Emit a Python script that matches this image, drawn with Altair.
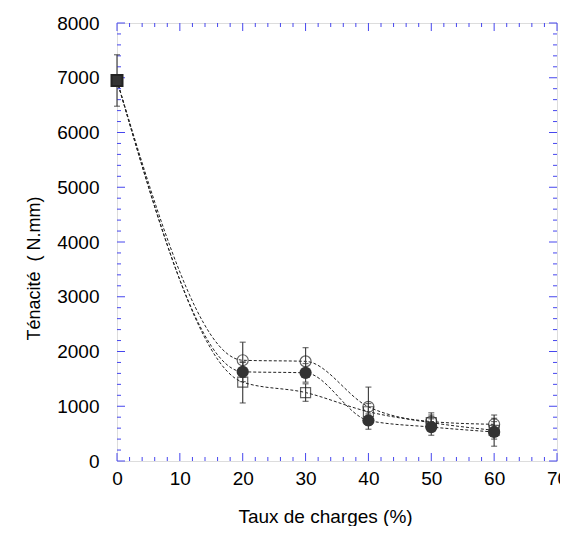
import altair as alt
import pandas as pd

# ---- data ----
x_vals = [0, 20, 30, 40, 50, 60]

open_circle_y = [6950, 1840, 1820, 990, 720, 670]
open_circle_lo = [6950, 1530, 1560, 650, 600, 480]
open_circle_hi = [6950, 2170, 2070, 1350, 880, 840]

filled_circle_y = [6950, 1630, 1610, 740, 620, 530]
filled_circle_lo = [6480, 1450, 1440, 580, 470, 270]
filled_circle_hi = [7420, 1810, 1780, 860, 770, 780]

open_square_y = [6950, 1440, 1250, 900, 700, 560]
open_square_lo = [6950, 1060, 1090, 750, 560, 400]
open_square_hi = [6950, 1800, 1410, 1050, 840, 720]

x_major = [0, 10, 20, 30, 40, 50, 60, 70]
x_minor = [2, 4, 6, 8, 12, 14, 16, 18, 22, 24, 26, 28, 32, 34, 36, 38,
           42, 44, 46, 48, 52, 54, 56, 58, 62, 64, 66, 68]
y_major = [0, 1000, 2000, 3000, 4000, 5000, 6000, 7000, 8000]
y_minor = [v + d for v in [0, 1000, 2000, 3000, 4000, 5000, 6000, 7000]
           for d in (200, 400, 600, 800)]

rows = []
for name, ys_, los, his in [
    ("oc", open_circle_y, open_circle_lo, open_circle_hi),
    ("fc", filled_circle_y, filled_circle_lo, filled_circle_hi),
    ("os", open_square_y, open_square_lo, open_square_hi),
]:
    for x, y, lo, hi in zip(x_vals, ys_, los, his):
        rows.append({"series": name, "x": x, "y": y, "lo": lo, "hi": hi})
df = pd.DataFrame(rows)

W, H = 440, 438
BLUE = "#4646ee"
FONT = "Liberation Sans"

xs = alt.Scale(domain=[0, 70], nice=False, zero=False)
ys = alt.Scale(domain=[0, 8000], nice=False)

x_axis = alt.Axis(
    values=x_major, format="d", ticks=False, domain=False, grid=False,
    labelFlush=False, labelOverlap=False,
    labelFont=FONT, labelFontSize=19, labelColor="black", labelPadding=8,
    title="Taux de charges (%)", titleFont=FONT, titleFontSize=19,
    titleFontWeight="normal", titleColor="black",
    titleX=208, titleY=61, titleBaseline="alphabetic")
y_axis = alt.Axis(
    values=y_major, format="d", ticks=False, domain=False, grid=False,
    labelFlush=False, labelOverlap=False,
    labelFont=FONT, labelFontSize=19, labelColor="black", labelPadding=18,
    title="Ténacité\u00a0 ( N.mm)", titleFont=FONT, titleFontSize=18,
    titleFontWeight="normal", titleColor="black",
    titleX=-74, titleY=245, titleAlign="center")


def X(field):
    return alt.X(field, scale=xs, axis=x_axis)


def Y(field):
    return alt.Y(field, scale=ys, axis=y_axis)


base = alt.Chart(df)

lines = base.mark_line(
    interpolate="monotone", color="#222222", strokeWidth=1, strokeDash=[3, 2]
).encode(x=X("x:Q"), y=Y("y:Q"), detail="series:N")

err = base.mark_rule(color="#444444", strokeWidth=1.2).encode(
    x=X("x:Q"), y=Y("lo:Q"), y2="hi:Q")
cap_lo = base.mark_tick(orient="horizontal", size=6, thickness=1.2,
                        color="#333333").encode(x=X("x:Q"), y=Y("lo:Q"))
cap_hi = base.mark_tick(orient="horizontal", size=6, thickness=1.2,
                        color="#333333").encode(x=X("x:Q"), y=Y("hi:Q"))

rest = base.transform_filter("datum.x > 0")
oc = rest.transform_filter("datum.series == 'oc'").mark_point(
    shape="circle", size=121, filled=False, stroke="#222222", strokeWidth=1.2
).encode(x=X("x:Q"), y=Y("y:Q"))
fc = rest.transform_filter("datum.series == 'fc'").mark_point(
    shape="circle", size=150, filled=True, fill="#333333", opacity=1
).encode(x=X("x:Q"), y=Y("y:Q"))
osq = rest.transform_filter("datum.series == 'os'").mark_point(
    shape="square", size=100, filled=False, stroke="#222222", strokeWidth=1.2
).encode(x=X("x:Q"), y=Y("y:Q"))
start = base.transform_filter("datum.x == 0 && datum.series == 'fc'").mark_point(
    shape="square", size=121, filled=True, fill="#333333", stroke="#222222",
    opacity=1).encode(x=X("x:Q"), y=Y("y:Q"))


# inward axis ticks
def xt(vals, y0, y1):
    return alt.Chart(pd.DataFrame({"x": vals})).mark_rule(
        color=BLUE, strokeWidth=1).encode(
        x=X("x:Q"), y=alt.value(y0), y2=alt.value(y1))


def yt(vals, x0, x1):
    return alt.Chart(pd.DataFrame({"y": vals})).mark_rule(
        color=BLUE, strokeWidth=1).encode(
        y=Y("y:Q"), x=alt.value(x0), x2=alt.value(x1))


ticks = [
    xt(x_major, H, H - 8), xt(x_minor, H, H - 4),
    xt(x_major, 0, 8), xt(x_minor, 0, 4),
    yt(y_major, 0, 8), yt(y_minor, 0, 4),
    yt(y_major, W, W - 8), yt(y_minor, W, W - 4),
]

chart = alt.layer(
    lines, *ticks, err, cap_lo, cap_hi, oc, osq, fc, start
).properties(
    width=W, height=H,
    autosize=alt.AutoSizeParams(type="none"),
    padding={"left": 109, "top": 15, "right": 3, "bottom": 65},
).configure_view(stroke=BLUE, strokeWidth=1.2).configure(background="white")

chart.save("out.html", embed_options={"renderer": "svg", "actions": False})
